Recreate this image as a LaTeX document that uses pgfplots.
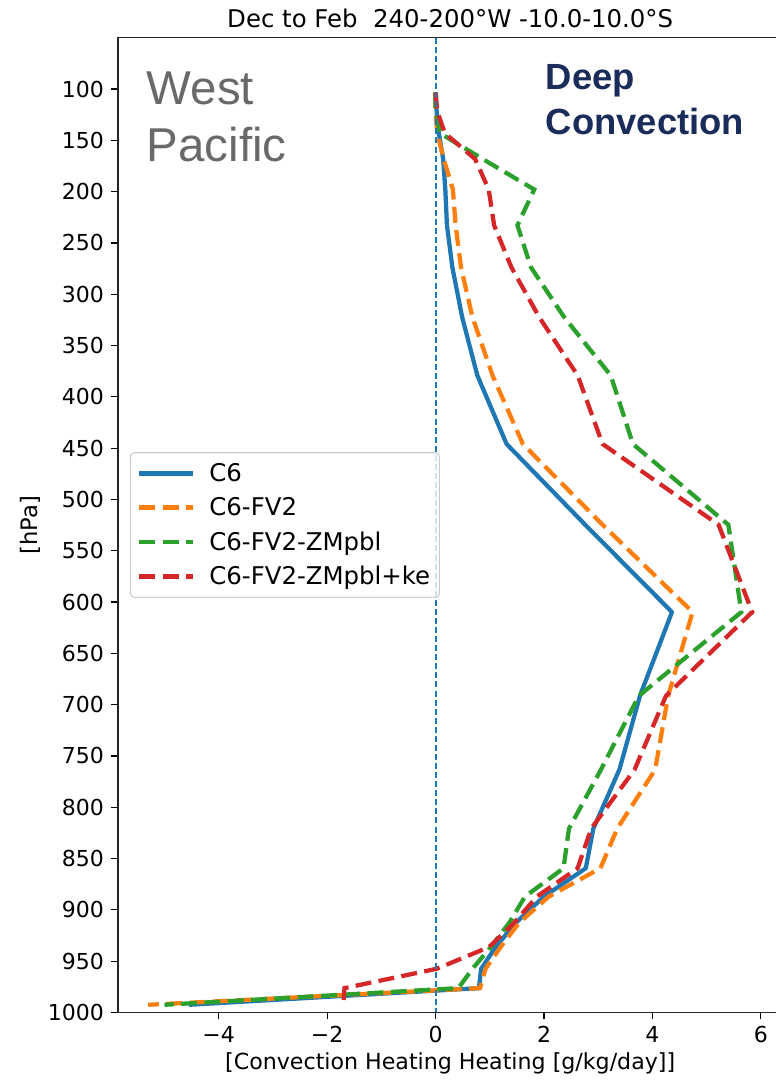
\documentclass[border=0pt]{standalone}
\usepackage{fontspec}
\setmainfont{DejaVu Sans}
\newfontfamily\arialfont{Liberation Sans}
\usepackage{pgfplots}
\pgfplotsset{compat=1.18}
\definecolor{tabblue}{HTML}{1F77B4}
\definecolor{taborange}{HTML}{FF7F0E}
\definecolor{tabgreen}{HTML}{2CA02C}
\definecolor{tabred}{HTML}{D62728}
\definecolor{navy}{RGB}{26,44,90}
\definecolor{wpgray}{RGB}{105,105,105}
\begin{document}
\begin{tikzpicture}
\path[use as bounding box] (-88.5pt,-53.7pt) rectangle (492.75pt,759.3pt);
\begin{axis}[
  at={(0pt,0pt)}, anchor=south west,
  scale only axis, width=498.3pt, height=731pt,
  xmin=-5.857, xmax=6.397, ymin=50, ymax=1000,
  y dir=reverse,
  xtick={-4,-2,0,2,4,6},
  xticklabels={−4,−2,0,2,4,6},
  ytick={100,150,...,1000},
  /pgf/number format/assume math mode=true,
  /pgf/number format/1000 sep={},
  tick align=outside, xtick pos=bottom, ytick pos=left,
  major tick length=5pt,
  every tick/.style={black, line width=0.9pt},
  axis line style={line width=0.9pt, black!85},
  tick label style={font=\fontsize{16.5}{18}\selectfont},
  xticklabel style={yshift=-2pt},
  yticklabel style={xshift=-2pt},
  title={Dec to Feb\ \ 240-200°W -10.0-10.0°S},
  title style={font=\fontsize{18.3}{20}\selectfont, at={(axis description cs:0.5,1.012)}, anchor=center},
  xlabel={[Convection Heating Heating [g/kg/day]]},
  xlabel style={font=\fontsize{16.6}{20}\selectfont, at={(axis description cs:0.5,-0.052)}, anchor=center},
  ylabel={[hPa]},
  ylabel style={font=\fontsize{17}{20}\selectfont, at={(axis description cs:-0.1325,0.5)}, anchor=center},
  legend style={at={(axis description cs:0.018,0.5)}, anchor=west,
    font=\fontsize{18.3}{21}\selectfont, draw=black!20, line width=0.8pt,
    fill=white, fill opacity=0.8, text opacity=1, rounded corners=3pt,
    row sep=6.5pt, inner xsep=5pt, inner ysep=6pt},
  legend cell align=left,
  legend image code/.code={\draw[#1] (0pt,0pt) -- (40pt,0pt);},
  /tikz/every odd column/.append style={column sep=9pt},
]
% C6
\addplot[tabblue, line width=3.2pt, line join=round] coordinates {
(0.00,103.32) (0.02,121.55) (0.06,142.99) (0.14,168.23) (0.18,197.91)
(0.21,232.83) (0.31,273.91) (0.49,322.24) (0.77,379.10) (1.31,445.99)
(2.76,524.69) (4.36,609.78) (3.77,691.39) (3.39,763.40) (2.91,820.86)
(2.77,859.53) (2.00,887.02) (1.48,912.64) (1.11,936.20) (0.84,957.49)
(0.80,976.33) (-4.55,992.56)};
\addlegendentry{C6}
% C6-FV2
\addplot[taborange, line width=3.2pt, dash pattern=on 12pt off 5.5pt] coordinates {
(0.00,103.32) (0.00,121.55) (0.03,142.99) (0.15,168.23) (0.32,197.91)
(0.37,232.83) (0.47,273.91) (0.68,322.24) (1.05,379.10) (1.61,445.99)
(3.08,524.69) (4.74,609.78) (4.29,691.39) (4.05,763.40) (3.35,820.86)
(3.04,859.53) (2.09,887.02) (1.54,912.64) (1.20,936.20) (0.92,957.49)
(0.82,976.33) (-5.30,992.56)};
\addlegendentry{C6-FV2}
% C6-FV2-ZMpbl
\addplot[tabgreen, line width=3.2pt, dash pattern=on 12pt off 5.5pt] coordinates {
(0.00,103.32) (0.00,121.55) (0.08,142.99) (0.87,168.23) (1.82,197.91)
(1.51,232.83) (1.76,273.91) (2.37,322.24) (3.23,379.10) (3.64,445.99)
(5.40,524.69) (5.64,609.78) (3.75,691.39) (3.05,763.40) (2.46,820.86)
(2.36,859.53) (1.65,887.02) (1.36,912.64) (1.02,936.20) (0.68,957.49)
(0.42,976.33) (-5.00,992.56)};
\addlegendentry{C6-FV2-ZMpbl}
% C6-FV2-ZMpbl+ke
\addplot[tabred, line width=3.2pt, dash pattern=on 12pt off 5.5pt] coordinates {
(0.00,103.32) (0.03,121.55) (0.17,142.99) (0.73,168.23) (0.98,197.91)
(1.08,232.83) (1.40,273.91) (1.91,322.24) (2.62,379.10) (3.08,445.99)
(5.22,524.69) (5.84,609.78) (4.25,691.39) (3.67,763.40) (2.87,820.86)
(2.62,859.53) (1.87,887.02) (1.45,912.64) (0.99,936.20) (0.02,957.49)
(-1.68,976.33) (-1.70,992.56)};
\addlegendentry{C6-FV2-ZMpbl+ke}
\addplot[tabblue, line width=1.5pt, dash pattern=on 4.5pt off 2.3pt, forget plot] coordinates {(0,50) (0,1000)};
\node[anchor=base west, font=\arialfont\fontsize{35.6}{40}\selectfont, text=wpgray, inner sep=0pt] at (axis cs:-5.33,114.6) {West};
\node[anchor=base west, font=\arialfont\fontsize{35.6}{40}\selectfont, text=wpgray, inner sep=0pt] at (axis cs:-5.33,170.9) {Pacific};
\node[anchor=base west, font=\arialfont\bfseries\fontsize{27.3}{30}\selectfont, text=navy, inner sep=0pt] at (axis cs:2.03,100) {Deep};
\node[anchor=base west, font=\arialfont\bfseries\fontsize{27.3}{30}\selectfont, text=navy, inner sep=0pt] at (axis cs:2.03,144.8) {Convection};
\end{axis}
\end{tikzpicture}
\end{document}
